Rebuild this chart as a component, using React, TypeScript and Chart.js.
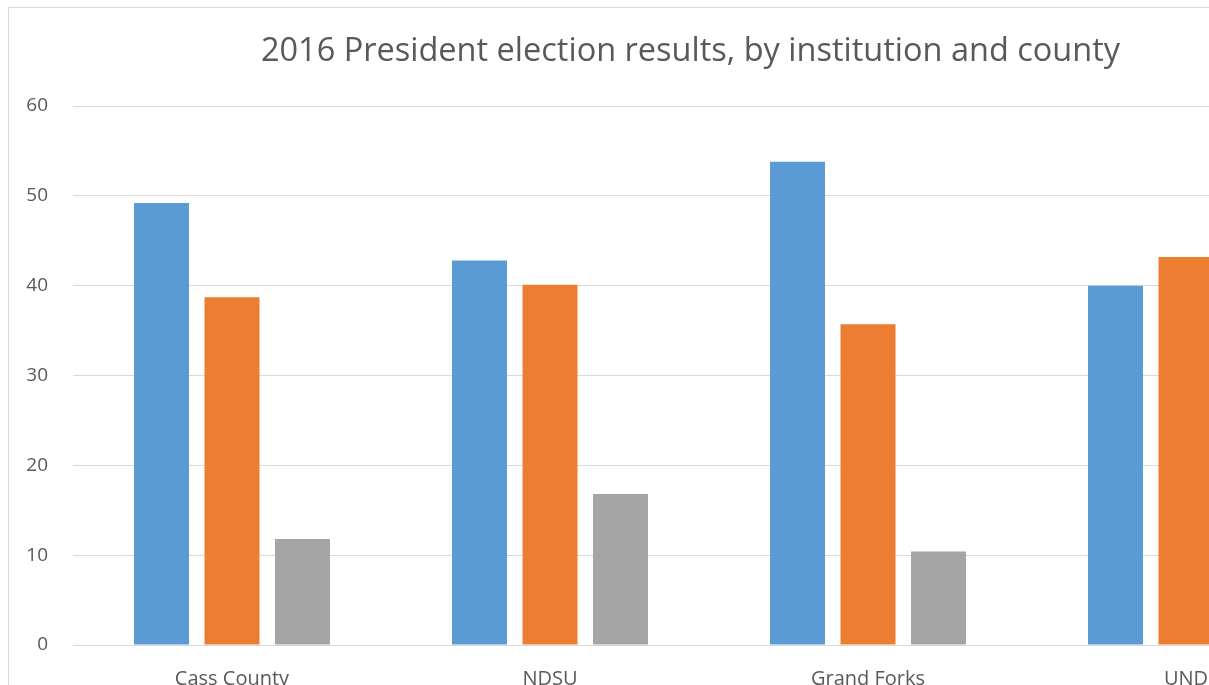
import React, { useEffect, useRef } from "react";
import { Chart, registerables } from "chart.js";

Chart.register(...registerables);

const categories = ["Cass County", "NDSU", "Grand Forks", "UND"];
const seriesNames = ["Clinton", "Trump", "Other"];
const clinton = [49.2, 42.8, 53.8, 40.0];
const trump = [38.7, 40.1, 35.7, 43.2];
const other = [11.8, 16.8, 10.4, 16.8];
const colors = ["#5B9BD5", "#ED7D31", "#A5A5A5"];
const titleText = "2016 President election results, by institution and county";

export default function App() {
  const ref = useRef<HTMLCanvasElement | null>(null);
  useEffect(() => {
    if (!ref.current) return;
    const font = "'Open Sans', sans-serif";
    const chart = new Chart(ref.current, {
      type: "bar",
      data: {
        labels: categories,
        datasets: [clinton, trump, other].map((d, i) => ({
          label: seriesNames[i],
          data: d,
          backgroundColor: colors[i],
          borderWidth: 0,
          categoryPercentage: 0.665,
          barPercentage: 0.78,
        })),
      },
      options: {
        responsive: false,
        animation: false,
        devicePixelRatio: 1,
        layout: { padding: 0 },
        plugins: {
          legend: { display: false },
          tooltip: { enabled: false },
          title: {
            display: true,
            text: titleText,
            color: "#595959",
            font: { family: font, size: 32.5, weight: "normal" },
            padding: { top: 24, bottom: 35 },
          },
        },
        scales: {
          x: {
            grid: { display: false, drawTicks: false },
            border: { display: true, color: "#d9d9d9", width: 1 },
            ticks: {
              color: "#595959",
              font: { family: font, size: 20 },
              padding: 22,
            },
            afterFit: (s: any) => {
              s.height = 80;
            },
          },
          y: {
            min: 0,
            max: 60,
            ticks: {
              stepSize: 10,
              color: "#595959",
              font: { family: font, size: 19 },
              padding: 25,
            },
            grid: { color: "#d9d9d9", drawTicks: false, lineWidth: 1 },
            border: { display: false },
            afterFit: (s: any) => {
              s.width = 64;
            },
          },
          yRight: {
            position: "right",
            min: 0,
            max: 60,
            grid: { display: false, drawTicks: false },
            border: { display: false },
            ticks: { display: false },
            afterFit: (s: any) => {
              s.width = 27;
            },
          },
        },
      },
    });
    return () => chart.destroy();
  }, []);
  return (
    <div
      style={{
        position: "fixed",
        left: 0,
        top: 0,
        width: "100vw",
        height: "100vh",
        overflow: "hidden",
        background: "#fff",
      }}
    >
      <div
        style={{
          position: "absolute",
          left: 8,
          top: 7,
          border: "1px solid #d9d9d9",
          width: 1363,
          height: 717,
        }}
      >
        <canvas ref={ref} width={1363} height={717} style={{ display: "block" }} />
      </div>
    </div>
  );
}
